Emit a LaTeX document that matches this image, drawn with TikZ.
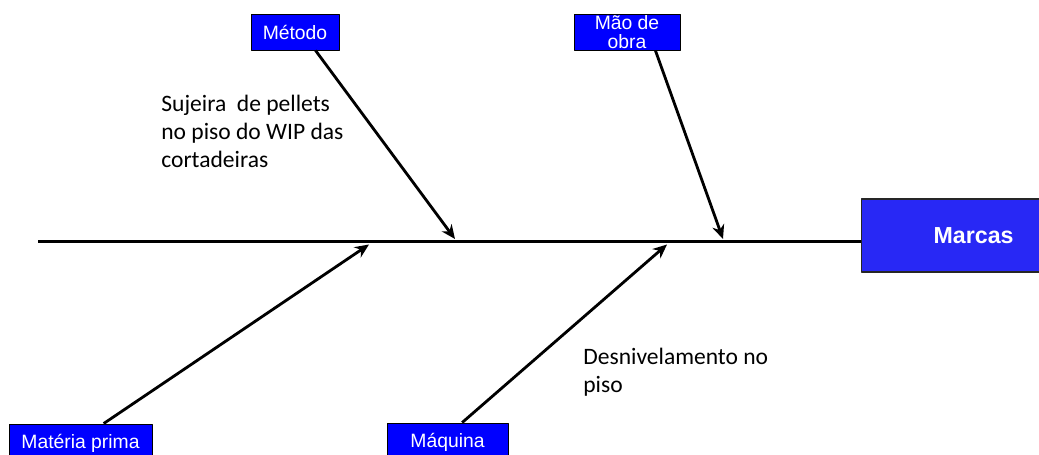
\documentclass[tikz,border=0pt]{standalone}
\usepackage{fontspec}
\setmainfont{Carlito}
\newfontfamily\boxfont{Liberation Sans}
\usetikzlibrary{arrows.meta}
\definecolor{causeblue}{RGB}{0,0,255}
\definecolor{effectblue}{RGB}{40,40,245}
\tikzset{
	causebox/.style={draw=black, line width=0.5pt, fill=causeblue, text=white, inner sep=0pt,
		font=\boxfont\fontsize{11}{11}\selectfont, align=center},
	effectbox/.style={draw=black!85, line width=0.7pt, fill=effectblue, text=white, inner sep=0pt,
		font=\boxfont\bfseries\fontsize{13.2}{14}\selectfont},
	note/.style={inner sep=0pt, anchor=base west, align=left, font=\fontsize{13.4}{16}\selectfont},
	bone/.style={->, line width=1.6pt},
}
\begin{document}
\begin{tikzpicture}[x=0.02cm, y=-0.02cm, line join=round, >={Stealth[length=8pt,width=7pt]}]
			\clip (0,0) rectangle (1039,455);
			\node[effectbox, anchor=west, minimum width=3.7cm, minimum height=1.46cm] (marcas) at (861,235.5) {\hspace*{0.78cm}Marcas};
			\coordinate (spine) at (38,241.5);
			\draw[line width=1.7pt] (spine) -- (spine -| marcas.west);
			\node[causebox, minimum width=1.76cm, minimum height=0.72cm] (metodo) at (295,32) {Método};
			\node[causebox, minimum width=2.12cm, minimum height=0.72cm] (maodeobra) at (627,32) {Mão de\\obra};
			\node[causebox, minimum width=2.86cm, minimum height=0.76cm] (materia) at (80.5,443) {Matéria prima};
			\node[causebox, minimum width=2.42cm, minimum height=0.76cm] (maquina) at (447.5,442) {Máquina};
			\coordinate (m1) at (455,239);
			\coordinate (m2) at (723,239);
			\coordinate (m3) at (369,244.5);
			\coordinate (m4) at (667,244.5);
			\draw[bone] (metodo.-42) -- (m1);
			\draw[bone] (maodeobra.-33) -- (m2);
			\draw[bone] (materia.40) -- (m3);
			\draw[bone] (maquina.53) -- (m4);
			\node[note] (sujeira) at (161,168) {Sujeira\ \ de pellets\\no piso do WIP das\\cortadeiras};
			\node[note] (desnivel) at (583,393) {Desnivelamento no\\piso};
		\end{tikzpicture}
\end{document}
